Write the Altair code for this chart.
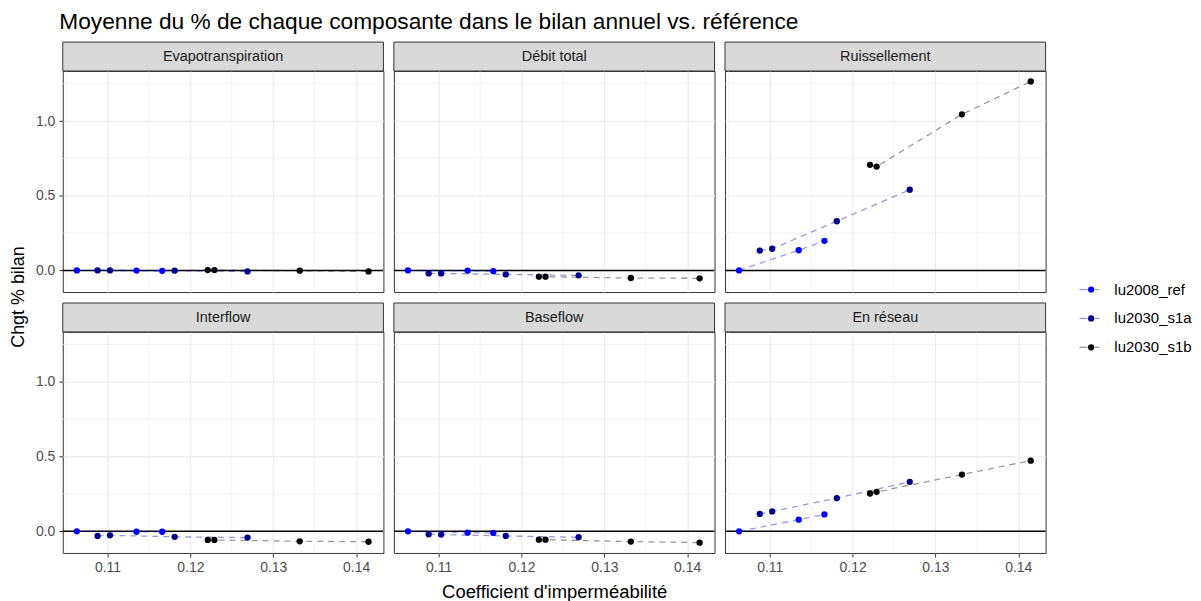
import altair as alt
import pandas as pd

# ---------------- data ----------------
scenarios = ["lu2008_ref", "lu2030_s1a", "lu2030_s1b"]
scenario_colors = ["#0000FF", "#00008B", "#000000"]
components = ["Evapotranspiration", "Débit total", "Ruissellement",
              "Interflow", "Baseflow", "En réseau"]

x_ref = [0.1063, 0.1135, 0.1166]
x_s1a = [0.1088, 0.1103, 0.1181, 0.1269]
x_s1b = [0.1221, 0.1229, 0.1332, 0.1415]

evap_ref = [0.000, -0.001, -0.003]
evap_s1a = [0.000, 0.000, -0.002, -0.007]
evap_s1b = [0.002, 0.002, -0.002, -0.007]

debit_ref = [0.000, -0.002, -0.005]
debit_s1a = [-0.020, -0.020, -0.027, -0.033]
debit_s1b = [-0.042, -0.042, -0.051, -0.053]

ruis_ref = [0.000, 0.135, 0.198]
ruis_s1a = [0.133, 0.145, 0.329, 0.540]
ruis_s1b = [0.707, 0.695, 1.045, 1.265]

inter_ref = [0.000, -0.003, -0.003]
inter_s1a = [-0.031, -0.027, -0.037, -0.042]
inter_s1b = [-0.058, -0.058, -0.067, -0.070]

base_ref = [0.000, -0.009, -0.011]
base_s1a = [-0.020, -0.022, -0.031, -0.040]
base_s1b = [-0.056, -0.056, -0.069, -0.076]

reseau_ref = [0.000, 0.078, 0.113]
reseau_s1a = [0.116, 0.133, 0.222, 0.331]
reseau_s1b = [0.253, 0.264, 0.380, 0.473]

x_major = [0.11, 0.12, 0.13, 0.14]
x_minor = [0.105, 0.115, 0.125, 0.135]
y_major = [0.0, 0.5, 1.0]
y_minor = [0.25, 0.75, 1.25]
zero_line = [0.0]
x_domain = [0.1046, 0.1433]
y_domain = [-0.145, 1.335]

title_text = "Moyenne du % de chaque composante dans le bilan annuel vs. référence"
x_title = "Coefficient d'imperméabilité"
y_title = "Chgt % bilan"

series = {
    "Evapotranspiration": (evap_ref, evap_s1a, evap_s1b),
    "Débit total": (debit_ref, debit_s1a, debit_s1b),
    "Ruissellement": (ruis_ref, ruis_s1a, ruis_s1b),
    "Interflow": (inter_ref, inter_s1a, inter_s1b),
    "Baseflow": (base_ref, base_s1a, base_s1b),
    "En réseau": (reseau_ref, reseau_s1a, reseau_s1b),
}
xs = (x_ref, x_s1a, x_s1b)

rows = []
for comp in components:
    for scen, xv, yv in zip(scenarios, xs, series[comp]):
        for a, b in zip(xv, yv):
            rows.append({"component": comp, "scenario": scen, "x": a, "y": b})
df = pd.DataFrame(rows)

# ---------------- layout constants ----------------
W, H, SH = 322, 222, 29
ROW_GAP, COL_GAP = 11, 10.5
FONT = "Liberation Sans"

xscale = alt.Scale(domain=x_domain, nice=False, zero=False)
yscale = alt.Scale(domain=y_domain, nice=False, zero=False)
cscale = alt.Scale(domain=scenarios, range=scenario_colors)


def panel(i, comp):
    row, col = divmod(i, 3)
    d = df[df["component"] == comp]

    xkw = dict(values=x_major, format=".2f", grid=True,
               labels=(row == 1), ticks=(row == 1), gridColor="#EBEBEB",
               gridWidth=1.1, title=None)
    if row == 1 and col == 1:
        xkw["title"] = x_title
    ykw = dict(values=y_major, format=".1f", grid=True,
               labels=(col == 0), ticks=(col == 0), title=None,
               gridColor="#EBEBEB", gridWidth=1.1)

    xenc = alt.X("x:Q", scale=xscale, axis=alt.Axis(**xkw))
    yenc = alt.Y("y:Q", scale=yscale, axis=alt.Axis(**ykw))

    vminor = alt.Chart(pd.DataFrame({"x": x_minor})).mark_rule(
        color="#EBEBEB", strokeWidth=0.6).encode(x=xenc)
    hminor = alt.Chart(pd.DataFrame({"y": y_minor})).mark_rule(
        color="#EBEBEB", strokeWidth=0.6).encode(y=yenc)
    hzero = alt.Chart(pd.DataFrame({"y": zero_line})).mark_rule(
        color="black", strokeWidth=1.5).encode(y=yenc)

    lines = alt.Chart(d).mark_line(
        strokeDash=[6, 5], strokeWidth=1.3, opacity=0.4).encode(
        x=xenc, y=yenc,
        stroke=alt.Stroke("scenario:N", scale=cscale, legend=None))

    pts = alt.Chart(d).mark_circle(size=40, opacity=1).encode(
        x=xenc, y=yenc,
        color=alt.Color("scenario:N", scale=cscale, legend=None))

    # facet strip drawn just above the panel
    lab = pd.DataFrame({"label": [comp]})
    strip_rect = alt.Chart(lab).mark_rect(
        fill="#D9D9D9", stroke="#333333", strokeWidth=1).encode(
        x=alt.value(0), x2=alt.value(W), y=alt.value(-SH), y2=alt.value(0))
    strip_text = alt.Chart(lab).mark_text(
        fontSize=14.5, color="#1A1A1A", font=FONT).encode(
        text="label:N", x=alt.value(W / 2), y=alt.value(-SH / 2 + 0.5))

    return alt.layer(vminor, hminor, hzero, lines, pts,
                     strip_rect, strip_text).properties(
        width=W, height=H,
        view=alt.ViewBackground(fill="white", stroke="#333333",
                                strokeWidth=1))


panels = [panel(i, c) for i, c in enumerate(components)]
grid = alt.concat(*panels, columns=3, bounds="flush",
                  spacing=alt.RowColnumber(row=ROW_GAP + SH, column=COL_GAP))

PLOTS_H = 2 * H + ROW_GAP + SH

ytitle = alt.Chart(pd.DataFrame({"t": [y_title]})).mark_text(
    angle=270, fontSize=18, font=FONT, color="black").encode(
    text="t:N", x=alt.value(10), y=alt.value(227)
).properties(width=25, height=PLOTS_H,
             view=alt.ViewBackground(stroke="transparent"))

# ---------------- custom legend ----------------
leg_df = pd.DataFrame({"scenario": scenarios})
leg_y = alt.Y("scenario:N", axis=None,
              scale=alt.Scale(domain=scenarios, type="point", padding=0,
                              range=[219.5, 277.5]))
leg_left = alt.Chart(leg_df).mark_rule(strokeWidth=1.3, opacity=0.4).encode(
    x=alt.value(31), x2=alt.value(39), y=leg_y,
    stroke=alt.Stroke("scenario:N", scale=cscale, legend=None))
leg_right = alt.Chart(leg_df).mark_rule(strokeWidth=1.3, opacity=0.4).encode(
    x=alt.value(46.5), x2=alt.value(51), y=leg_y,
    stroke=alt.Stroke("scenario:N", scale=cscale, legend=None))
leg_dot = alt.Chart(leg_df).mark_circle(size=40, opacity=1).encode(
    x=alt.value(42.7), y=leg_y,
    color=alt.Color("scenario:N", scale=cscale, legend=None))
leg_txt = alt.Chart(leg_df).mark_text(
    align="left", baseline="middle", fontSize=15, font=FONT,
    color="#000000").encode(x=alt.value(66), y=leg_y, text="scenario:N")
legend = alt.layer(leg_left, leg_right, leg_dot, leg_txt).properties(
    width=140, height=PLOTS_H,
    view=alt.ViewBackground(stroke="transparent"))

chart = alt.hconcat(ytitle, grid, legend, spacing=0).properties(
    title=alt.TitleParams(title_text, anchor="start", fontSize=22.8,
                          fontWeight="normal", color="black", font=FONT,
                          dx=51, offset=7.5),
    padding={"left": 0, "top": 1, "right": 0, "bottom": 0},
).configure(font=FONT).configure_view(stroke="transparent").configure_axis(
    labelFont=FONT, labelFontSize=14, labelColor="#4D4D4D",
    tickColor="#333333", tickSize=4, tickWidth=1, domain=False,
    labelPadding=4, titleFont=FONT, titleFontSize=18.5,
    titleFontWeight="normal", titleColor="#000000", titlePadding=8,
    minExtent=0,
)

chart.save("out.html", embed_options={"renderer": "svg", "actions": False})
